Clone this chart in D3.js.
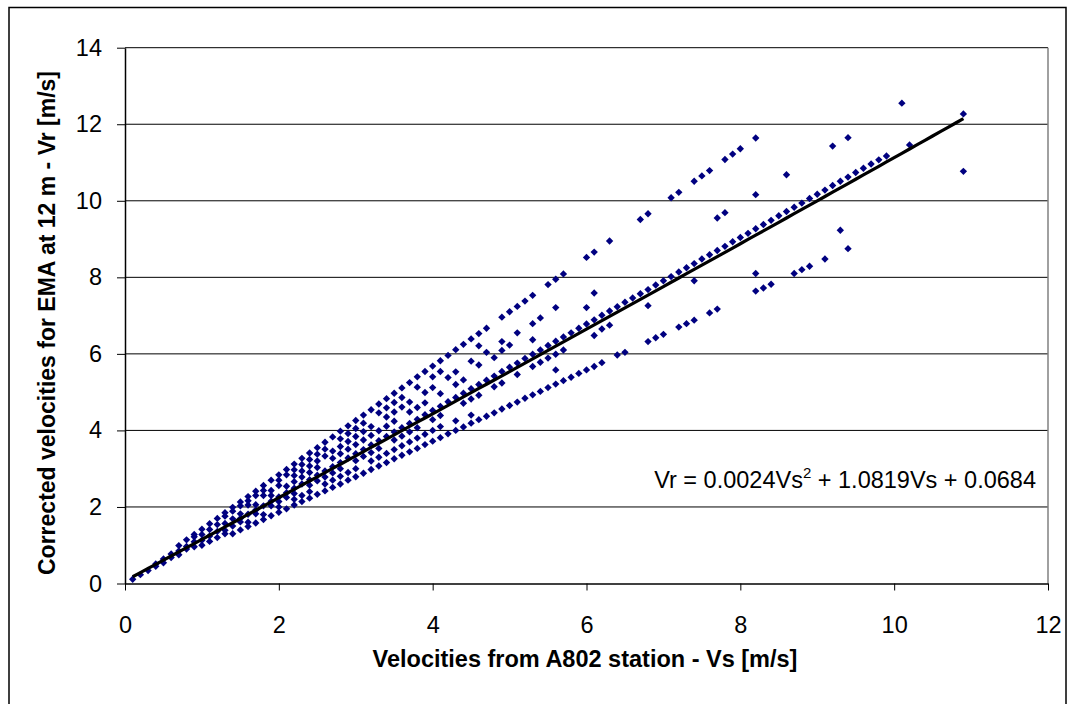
<!DOCTYPE html>
<html>
<head>
<meta charset="utf-8">
<script src="https://cdn.jsdelivr.net/npm/d3@7"></script>
<style>
  body { margin: 0; background: #fff; }
  text { font-family: "Liberation Sans", Arial, sans-serif; }
</style>
</head>
<body>
<script>
// Vs (A802 station) vs Vr (EMA at 12 m), points grouped by the visible "rays" of the fan
const ray093 = [
  [1.4, 1.3], [1.5, 1.4], [1.6, 1.49], [1.7, 1.58], [1.8, 1.67], [1.9, 1.77], [2.0, 1.86],
  [2.1, 1.95], [2.2, 2.05], [2.3, 2.14], [2.4, 2.23], [2.5, 2.33], [2.6, 2.42], [2.7, 2.51],
  [2.8, 2.6], [2.9, 2.7], [3.0, 2.79], [3.1, 2.88], [3.2, 2.98], [3.3, 3.07], [3.4, 3.16],
  [3.5, 3.26], [3.6, 3.35], [3.7, 3.44], [3.8, 3.53], [3.9, 3.63], [4.0, 3.72], [4.1, 3.81],
  [4.2, 3.91], [4.3, 4.0], [4.4, 4.09], [4.5, 4.19], [4.6, 4.28], [4.7, 4.37], [4.8, 4.46],
  [4.9, 4.56], [5.0, 4.65], [5.1, 4.74], [5.2, 4.84], [5.3, 4.93], [5.4, 5.02], [5.5, 5.12],
  [5.6, 5.21], [5.7, 5.3], [5.8, 5.39], [5.9, 5.49], [6.0, 5.58], [6.1, 5.67], [6.2, 5.77],
  [6.4, 5.97], [6.5, 6.04], [6.8, 6.32], [6.9, 6.42], [7.0, 6.51], [7.2, 6.7], [7.3, 6.79],
  [7.4, 6.88], [7.6, 7.07], [7.7, 7.17], [8.2, 7.64], [8.3, 7.72], [8.4, 7.82], [8.7, 8.1],
  [8.8, 8.2], [8.9, 8.29], [9.1, 8.48], [9.4, 8.75]
];

const ray100 = [
  [1.0, 1.0], [1.1, 1.1], [1.2, 1.2], [1.3, 1.3], [1.6, 1.6], [1.8, 1.8], [2.0, 2.0],
  [2.2, 2.2], [2.3, 2.3], [2.4, 2.4], [2.6, 2.6], [2.7, 2.7], [2.8, 2.8], [2.9, 2.9],
  [3.0, 3.0], [3.2, 3.2], [3.3, 3.3], [3.4, 3.4], [3.5, 3.5], [3.6, 3.6], [3.7, 3.7],
  [3.8, 3.8], [3.9, 3.9], [4.0, 4.0], [4.1, 4.1], [4.3, 4.25], [4.5, 4.4], [5.6, 5.58],
  [8.2, 8.1], [9.3, 9.23], [10.9, 10.77]
];

const ray107 = [
  [0.5, 0.54], [0.7, 0.75], [0.9, 0.96], [1.3, 1.39], [1.4, 1.5], [1.5, 1.61], [1.7, 1.82],
  [1.9, 2.03], [2.0, 2.14], [2.1, 2.25], [2.2, 2.35], [2.4, 2.57], [2.5, 2.68], [2.6, 2.78],
  [2.7, 2.89], [2.8, 3.0], [3.0, 3.21], [3.1, 3.32], [3.2, 3.42], [3.3, 3.53], [3.5, 3.75],
  [3.6, 3.85], [3.7, 3.96], [3.8, 4.07], [4.0, 4.28], [4.1, 4.39], [4.4, 4.71], [4.5, 4.82],
  [4.6, 4.92], [4.8, 5.14], [4.9, 5.24], [5.1, 5.46], [5.3, 5.67], [5.4, 5.78], [5.5, 5.89],
  [5.6, 5.99], [5.7, 6.1], [6.1, 6.48], [6.2, 6.65], [6.3, 6.75], [6.8, 7.26], [7.4, 7.91]
];

const ray113 = [
  [0.1, 0.11], [0.2, 0.23], [0.3, 0.34], [0.4, 0.45], [0.6, 0.68], [0.8, 0.9], [1.0, 1.13],
  [1.1, 1.24], [1.2, 1.36], [1.5, 1.7], [1.6, 1.81], [1.7, 1.92], [1.8, 2.03], [1.9, 2.15],
  [2.0, 2.26], [2.1, 2.37], [2.2, 2.49], [2.3, 2.6], [2.4, 2.71], [2.5, 2.83], [2.6, 2.94],
  [2.7, 3.05], [2.8, 3.16], [2.9, 3.28], [3.0, 3.39], [3.1, 3.5], [3.2, 3.62], [3.3, 3.73],
  [3.4, 3.84], [3.5, 3.96], [3.6, 4.07], [3.7, 4.18], [3.8, 4.29], [3.9, 4.41], [4.0, 4.52],
  [4.1, 4.63], [4.2, 4.75], [4.3, 4.86], [4.4, 4.97], [4.5, 5.09], [4.6, 5.2], [4.7, 5.31],
  [4.8, 5.42], [4.9, 5.54], [5.0, 5.65], [5.1, 5.76], [5.2, 5.88], [5.3, 5.99], [5.4, 6.1],
  [5.5, 6.22], [5.6, 6.33], [5.7, 6.44], [5.8, 6.55], [5.9, 6.67], [6.0, 6.78], [6.1, 6.89],
  [6.2, 7.01], [6.3, 7.12], [6.4, 7.23], [6.5, 7.35], [6.6, 7.46], [6.7, 7.57], [6.8, 7.68],
  [6.9, 7.8], [7.0, 7.91], [7.1, 8.02], [7.2, 8.14], [7.3, 8.25], [7.4, 8.36], [7.5, 8.48],
  [7.6, 8.59], [7.7, 8.7], [7.8, 8.81], [7.9, 8.93], [8.0, 9.04], [8.1, 9.15], [8.2, 9.27],
  [8.3, 9.38], [8.4, 9.49], [8.5, 9.61], [8.6, 9.72], [8.7, 9.83], [8.8, 9.94], [8.9, 10.06],
  [9.0, 10.17], [9.1, 10.28], [9.2, 10.4], [9.3, 10.51], [9.4, 10.62], [9.5, 10.74],
  [9.6, 10.85], [9.7, 10.96], [9.8, 11.07], [9.9, 11.17], [10.2, 11.46], [10.9, 12.27]
];

const ray121 = [
  [0.7, 0.85], [0.8, 0.97], [0.9, 1.09], [1.3, 1.57], [1.4, 1.69], [1.5, 1.82], [1.7, 2.06],
  [1.9, 2.3], [2.1, 2.54], [2.2, 2.66], [2.3, 2.78], [2.4, 2.9], [2.5, 3.03], [2.7, 3.27],
  [2.8, 3.39], [2.9, 3.51], [3.0, 3.63], [3.1, 3.75], [3.2, 3.87], [3.3, 3.99], [3.4, 4.11],
  [3.5, 4.24], [3.7, 4.48], [3.8, 4.6], [3.9, 4.72], [4.1, 4.96], [4.3, 5.2], [4.4, 5.32],
  [4.6, 5.71], [4.8, 5.9], [4.9, 6.09], [5.0, 6.23], [5.3, 6.37], [6.0, 7.21], [6.1, 7.59],
  [7.7, 9.55], [7.8, 9.69], [8.2, 10.16], [8.6, 10.68], [9.2, 11.43], [9.4, 11.65], [10.1, 12.55]
];

const ray128 = [
  [0.4, 0.51], [0.5, 0.64], [0.6, 0.77], [1.0, 1.28], [1.1, 1.41], [1.2, 1.54], [1.6, 2.05],
  [1.8, 2.3], [1.9, 2.43], [2.0, 2.56], [2.2, 2.82], [2.3, 2.94], [2.4, 3.07], [2.5, 3.2],
  [2.6, 3.33], [2.7, 3.46], [2.8, 3.58], [2.9, 3.71], [3.0, 3.84], [3.1, 3.97], [3.2, 4.1],
  [3.4, 4.35], [3.5, 4.48], [3.6, 4.61], [3.7, 4.74], [3.9, 4.99], [4.0, 5.12], [4.2, 5.38],
  [4.3, 5.53], [4.5, 5.81], [4.7, 6.04], [4.9, 6.32], [5.1, 6.55], [5.3, 6.79], [5.4, 6.94],
  [5.6, 7.21]
];

const ray135 = [
  [0.9, 1.22], [1.3, 1.76], [1.4, 1.89], [1.5, 2.03], [1.6, 2.16], [1.7, 2.3], [1.8, 2.43],
  [2.0, 2.7], [2.1, 2.84], [2.2, 2.97], [2.3, 3.11], [2.4, 3.24], [2.5, 3.38], [2.6, 3.51],
  [2.8, 3.78], [2.9, 3.92], [3.0, 4.05], [3.1, 4.19], [3.3, 4.46], [3.4, 4.59], [3.5, 4.73],
  [3.6, 4.86], [3.8, 5.13], [4.0, 5.4], [4.1, 5.54], [4.6, 6.21]
];

const ray142 = [
  [0.7, 0.99], [0.8, 1.14], [0.9, 1.28], [1.0, 1.42], [1.1, 1.56], [1.2, 1.7], [1.3, 1.85],
  [1.4, 1.99], [1.5, 2.13], [1.6, 2.27], [1.7, 2.41], [1.8, 2.56], [1.9, 2.7], [2.0, 2.84],
  [2.1, 2.98], [2.2, 3.12], [2.3, 3.27], [2.4, 3.41], [2.5, 3.55], [2.6, 3.69], [2.7, 3.83],
  [2.8, 3.98], [2.9, 4.12], [3.0, 4.26], [3.1, 4.4], [3.2, 4.54], [3.3, 4.69], [3.4, 4.83],
  [3.5, 4.97], [3.6, 5.11], [3.7, 5.25], [3.8, 5.4], [3.9, 5.54], [4.0, 5.68], [4.1, 5.82],
  [4.2, 5.96], [4.3, 6.11], [4.4, 6.25], [4.5, 6.39], [4.6, 6.53], [4.7, 6.67], [4.9, 6.96],
  [5.0, 7.1], [5.1, 7.24], [5.2, 7.38], [5.3, 7.53], [5.5, 7.81], [5.6, 7.95], [5.7, 8.09],
  [6.0, 8.52], [6.1, 8.66], [6.3, 8.95], [6.7, 9.51], [6.8, 9.66], [7.1, 10.08], [7.2, 10.22],
  [7.4, 10.51], [7.5, 10.65], [7.6, 10.79], [7.8, 11.08], [7.9, 11.22], [8.0, 11.36], [8.2, 11.64]
];

// polynomial trendline Vr = a*Vs^2 + b*Vs + c, as printed on the chart
const trendCoef = [0.0024, 1.0819, 0.0684];
const trendRange = [0.1, 10.9];

const xTicks = [0, 2, 4, 6, 8, 10, 12];
const yTicks = [0, 2, 4, 6, 8, 10, 12, 14];

const points = [].concat(ray093, ray100, ray107, ray113, ray121, ray128, ray135, ray142);

const w = 1074;
const h = 704;

const svg = d3.select("body").append("svg").attr("width", w).attr("height", h);

// outer frame (bottom edge runs past the picture)
svg
  .append("rect")
  .attr("x", 9)
  .attr("y", 7.5)
  .attr("width", 1057)
  .attr("height", 710)
  .attr("fill", "none")
  .attr("stroke", "#000")
  .attr("stroke-width", 1.5);

const x = d3.scaleLinear().domain([0, 12]).range([125, 1048]);
const y = d3.scaleLinear().domain([0, 14]).range([583.5, 47.7]);

// gridlines
svg
  .selectAll("line.grid")
  .data(yTicks.filter((d) => d > 0))
  .enter()
  .append("line")
  .attr("class", "grid")
  .attr("x1", x(0))
  .attr("x2", x(12))
  .attr("y1", (d) => y(d))
  .attr("y2", (d) => y(d))
  .attr("stroke", "#000")
  .attr("stroke-width", 1);

// plot area right edge
svg
  .append("line")
  .attr("x1", x(12))
  .attr("x2", x(12))
  .attr("y1", y(14))
  .attr("y2", y(0))
  .attr("stroke", "#808080")
  .attr("stroke-width", 1.5);

const xAxis = svg
  .append("g")
  .attr("transform", `translate(0,${y(0)})`)
  .call(d3.axisBottom(x).tickValues(xTicks).tickSize(7).tickSizeOuter(0).tickPadding(26));

const yAxis = svg
  .append("g")
  .attr("transform", `translate(${x(0)},0)`)
  .call(d3.axisLeft(y).tickValues(yTicks).tickSize(8).tickSizeOuter(0).tickPadding(15));

[xAxis, yAxis].forEach((g) => {
  g.selectAll("text")
    .attr("font-family", "Liberation Sans, Arial, sans-serif")
    .attr("font-size", 23.5)
    .attr("fill", "#000");
  g.selectAll("line").attr("stroke", "#000");
  g.select(".domain").attr("stroke", "#000").attr("stroke-width", 1.5);
});

// scatter points (navy diamonds)
svg
  .append("g")
  .selectAll("path")
  .data(points)
  .enter()
  .append("path")
  .attr("d", d3.symbol().type(d3.symbolSquare).size(27))
  .attr("transform", (d) => `translate(${x(d[0])},${y(d[1])}) rotate(45)`)
  .attr("fill", "#000080");

// trendline
const trendX = d3.range(trendRange[0], trendRange[1] + 0.001, 0.1);
const line = d3
  .line()
  .x((d) => x(d))
  .y((d) => y(trendCoef[0] * d * d + trendCoef[1] * d + trendCoef[2]));

svg
  .append("path")
  .datum(trendX)
  .attr("d", line)
  .attr("fill", "none")
  .attr("stroke", "#000")
  .attr("stroke-width", 3.2);

// equation label
const eq = svg
  .append("text")
  .attr("x", 1036)
  .attr("y", 488)
  .attr("text-anchor", "end")
  .attr("font-size", 23.5)
  .attr("fill", "#000");
eq.append("tspan").text("Vr = 0.0024Vs");
eq.append("tspan").attr("dy", -10).attr("font-size", 15).text("2");
eq.append("tspan").attr("dy", 10).text(" + 1.0819Vs + 0.0684");

// axis titles
svg
  .append("text")
  .attr("x", 585)
  .attr("y", 667)
  .attr("text-anchor", "middle")
  .attr("font-size", 23.5)
  .attr("font-weight", "bold")
  .text("Velocities from A802 station - Vs [m/s]");

svg
  .append("text")
  .attr("transform", "translate(55,323) rotate(-90)")
  .attr("text-anchor", "middle")
  .attr("font-size", 23)
  .attr("font-weight", "bold")
  .text("Corrected velocities for EMA at 12 m - Vr [m/s]");
</script>
</body>
</html>
